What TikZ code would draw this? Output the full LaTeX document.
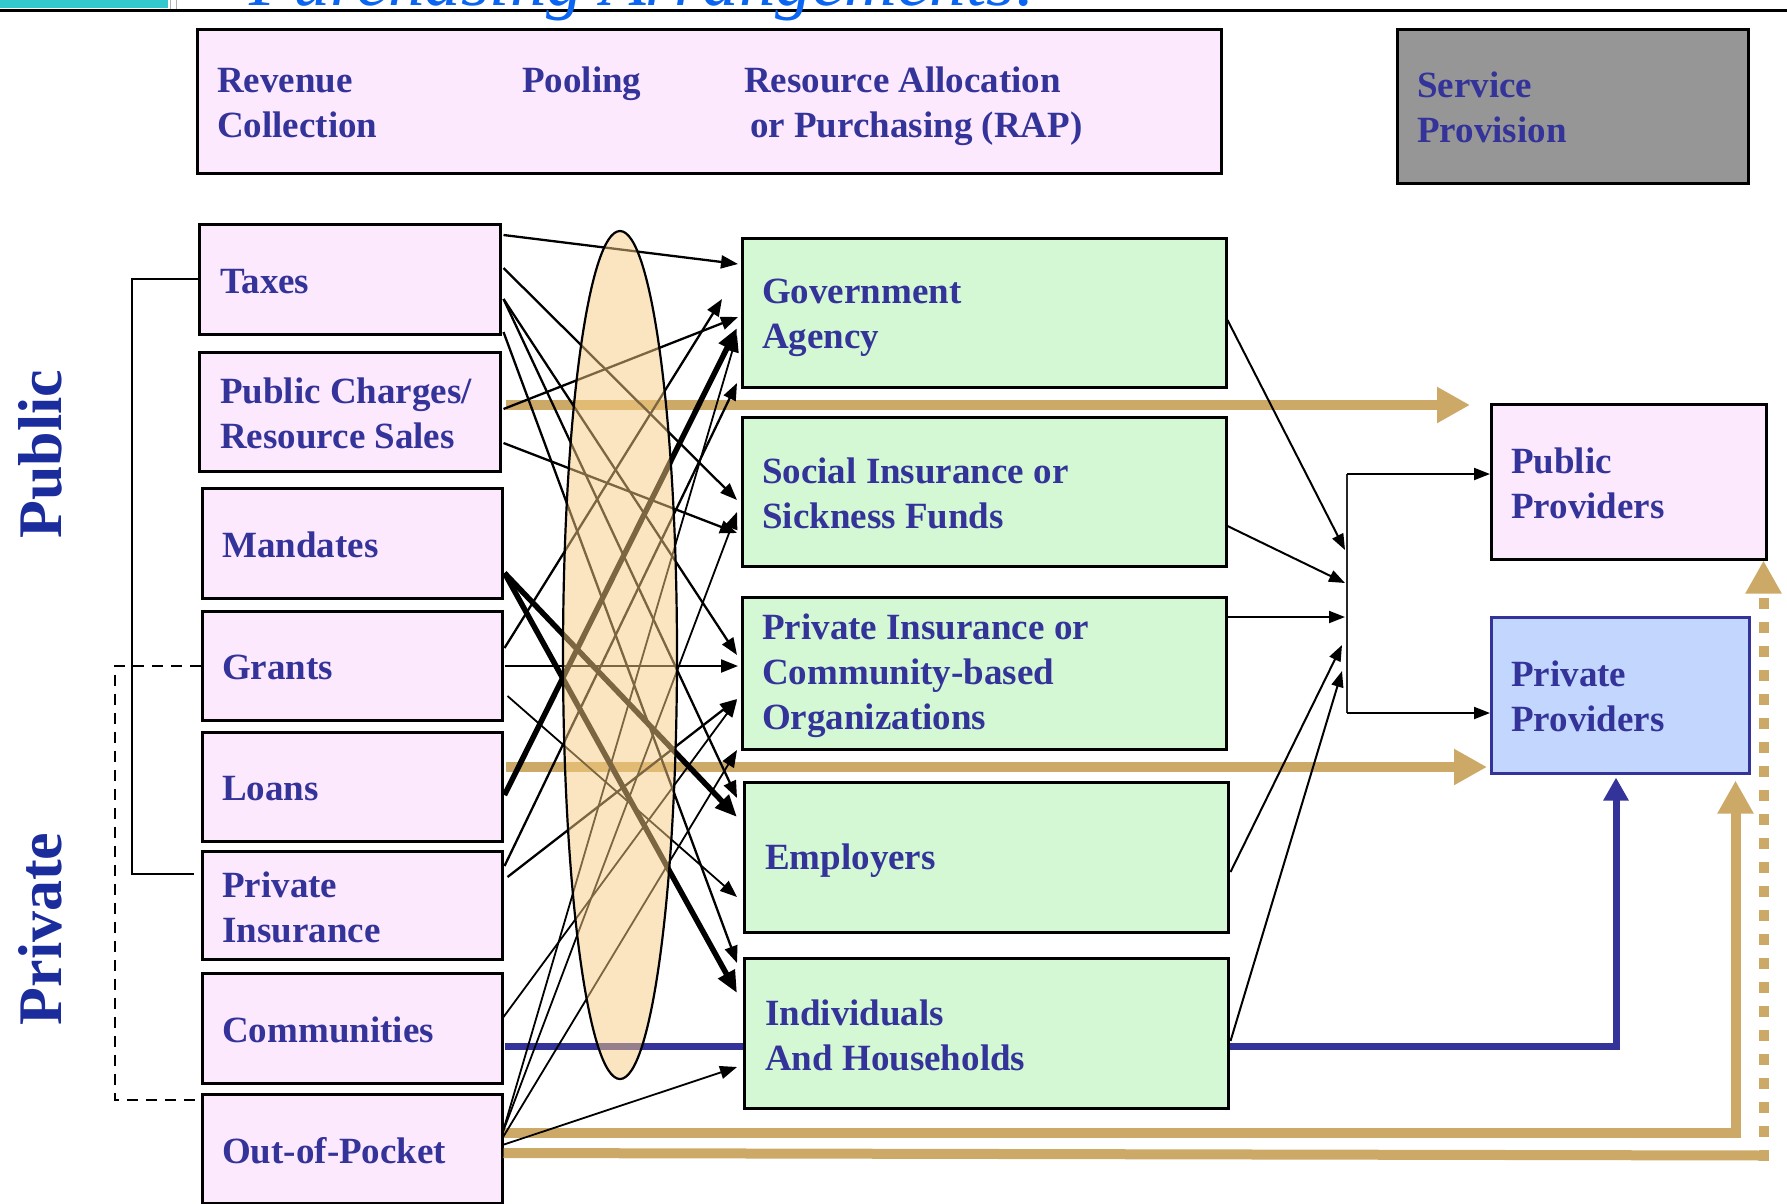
\documentclass[tikz,border=0pt]{standalone}
\usepackage{fontspec}
\setmainfont{Liberation Serif}
\usetikzlibrary{arrows.meta,calc}
\definecolor{pinkc}{HTML}{FDE9FD}
\definecolor{greenc}{HTML}{D4F8D4}
\definecolor{grayc}{HTML}{969696}
\definecolor{bluec}{HTML}{C3D6FD}
\definecolor{tanc}{HTML}{CCA966}
\definecolor{txtc}{HTML}{333399}
\definecolor{sidec}{HTML}{1B2C9C}
\definecolor{ellc}{HTML}{F7CC82}
\definecolor{titlec}{HTML}{0A66F2}
\definecolor{tealc}{HTML}{33C8CE}
\begin{document}
\begin{tikzpicture}[x=1pt,y=-1pt,
  box/.style={draw=black, line width=2.5pt, inner sep=0pt, anchor=north west},
  lbox/.style={box, fill=pinkc},
  gbox/.style={box, fill=greenc},
  txt/.style={anchor=west, align=left, text=txtc, inner sep=0pt, font=\bfseries\fontsize{37}{45}\selectfont},
  side/.style={text=sidec, inner sep=0pt, rotate=90, font=\bfseries\fontsize{62}{62}\selectfont},
  arr/.style={draw=black, line width=2.3pt, -{Triangle[length=17pt,width=13pt]}},
  tarr/.style={arr, line width=1.8pt},
  karr/.style={draw=black, line width=5.5pt, -{Triangle[length=22pt,width=18pt]}},
  carr/.style={draw=black, line width=2pt, -{Triangle[length=16pt,width=12pt]}},
  tanline/.style={draw=tanc, line width=10pt},
  tanarr/.style={tanline, -{Triangle[length=33pt,width=34pt]}},
  bluearr/.style={draw=txtc, line width=7pt, -{Triangle[length=23pt,width=24pt]}}
]
\useasboundingbox (0,0) rectangle (1787,1203);

% top strip
\fill[tealc] (0,0) rectangle (168,8);
\draw[gray!60, line width=0.8pt] (170,0) -- (170,9) (176,0) -- (176,9);
\draw[black, line width=3pt] (0,10) -- (1787,10);
\node[anchor=base west, inner sep=0pt, text=titlec, font=\itshape\fontsize{73}{73}\selectfont] (title) at (249,5) {Purchasing Arrangements:};

% header
\node[lbox, minimum width=1024pt, minimum height=144pt] (hdr) at (196,28) {};
\node[txt] (rc) at (217,103) {Revenue\\Collection};
\node[txt] (pool) at (522,84) {Pooling};
\node[txt] (rap) at (744,106) {Resource Allocation\\\hspace*{6pt}or Purchasing (RAP)};
\node[box, fill=grayc, minimum width=351pt, minimum height=154pt] (svc) at (1396,28) {};
\node[txt] (svct) at (1417,107) {Service\\Provision};

% side labels
\node[side] (pub) at (40,454) {Public};
\node[side] (priv) at (40,929) {Private};

% left boxes
\node[lbox, minimum width=301pt, minimum height=110pt] (taxes) at (198,223) {};
\node[lbox, minimum width=301pt, minimum height=119pt] (pubch) at (198,351) {};
\node[lbox, minimum width=300pt, minimum height=110pt] (mand) at (201,487) {};
\node[lbox, minimum width=300pt, minimum height=109pt] (grants) at (201,610) {};
\node[lbox, minimum width=300pt, minimum height=109pt] (loans) at (201,731) {};
\node[lbox, minimum width=300pt, minimum height=108pt] (privins) at (201,850) {};
\node[lbox, minimum width=300pt, minimum height=110pt] (comm) at (201,972) {};
\node[lbox, minimum width=300pt, minimum height=109pt] (oop) at (201,1093) {};
\node[txt] (taxes-t) at ($(taxes.west)+(22,2)$) {Taxes};
\node[txt] (pubch-t) at ($(pubch.west)+(22,2)$) {Public Charges/\\Resource Sales};
\node[txt] (mand-t) at ($(mand.west)+(21,2)$) {Mandates};
\node[txt] (grants-t) at ($(grants.west)+(21,2)$) {Grants};
\node[txt] (loans-t) at ($(loans.west)+(21,2)$) {Loans};
\node[txt] (privins-t) at ($(privins.west)+(21,2)$) {Private\\Insurance};
\node[txt] (comm-t) at ($(comm.west)+(21,2)$) {Communities};
\node[txt] (oop-t) at ($(oop.west)+(21,2)$) {Out-of-Pocket};

% middle boxes
\node[gbox, minimum width=484pt, minimum height=149pt] (gov) at (741,237) {};
\node[gbox, minimum width=484pt, minimum height=149pt] (social) at (741,416) {};
\node[gbox, minimum width=484pt, minimum height=152pt] (cbo) at (741,596) {};
\node[gbox, minimum width=484pt, minimum height=150pt] (emp) at (743,781) {};
\node[gbox, minimum width=484pt, minimum height=150pt] (indiv) at (743,957) {};
\node[txt] (gov-t) at ($(gov.west)+(21,5)$) {Government\\Agency};
\node[txt] (social-t) at ($(social.west)+(21,2)$) {Social Insurance or\\Sickness Funds};
\node[txt] (cbo-t) at ($(cbo.west)+(21,2)$) {Private Insurance or\\Community-based\\Organizations};
\node[txt] (emp-t) at ($(emp.west)+(22,3)$) {Employers};
\node[txt] (indiv-t) at ($(indiv.west)+(22,2)$) {Individuals\\And Households};

% right boxes
\node[lbox, minimum width=275pt, minimum height=155pt] (pubprov) at (1490,403) {};
\node[box, draw=txtc, fill=bluec, minimum width=258pt, minimum height=156pt] (privprov) at (1490,616) {};
\node[txt] (pubprov-t) at ($(pubprov.west)+(21,2)$) {Public\\Providers};
\node[txt] (privprov-t) at ($(privprov.west)+(21,1)$) {Private\\Providers};

% left brackets
\draw[line width=1.8pt] (taxes.west) -| ($(privins.north west)+(-69,24)$) -- ($(privins.north west)+(-7,24)$);
\draw[line width=1.8pt, dash pattern=on 11pt off 8pt] (grants.west) -| ($(oop.north west)+(-86,7)$) -- ($(oop.north west)+(-3,7)$);

% tan flows
\draw[tanarr] ($(pubch.north east)+(4,54)$) -- ($(pubprov.north west)+(-20,2)$);
\draw[tanarr] ($(loans.north east)+(2,36)$) -- ($(privprov.north west)+(-3,151)$);
\coordinate (tanup) at ($(privprov.south east)+(-15,6)$);
\draw[tanarr, line join=miter] ($(oop.north east)+(0,40)$) -| (tanup);
\coordinate (tancorner) at ($(pubprov.south east)+(-4,595)$);
\draw[tanline] ($(oop.north east)+(0,60)$) -- ($(tancorner)+(5,0)$);
\draw[tanarr, dash pattern=on 11pt off 13pt] ($(tancorner)+(0,5)$) -- ($(pubprov.south east)+(-4,0)$);

% blue flow
\draw[draw=txtc, line width=7pt] ($(comm.north east)+(1,74)$) -- ($(indiv.north west)+(0,89)$);
\draw[bluearr, line join=miter] ($(indiv.north east)+(0,89)$) -| ($(privprov.south west)+(126,3)$);

% revenue -> pooling connectors
\draw[arr] ($(taxes.north east)+(2,12)$) -- ($(gov.north west)+(-3,27)$);
\draw[arr] ($(taxes.north east)+(2,45)$) -- ($(social.north west)+(-4,84)$);
\draw[arr] ($(taxes.north east)+(2,76)$) -- ($(cbo.north west)+(-4,59)$);
\draw[arr] ($(taxes.north east)+(2,76)$) -- ($(emp.north west)+(-6,17)$);
\draw[arr] ($(taxes.north east)+(2,109)$) -- ($(indiv.north west)+(-6,6)$);
\draw[arr] ($(pubch.north east)+(2,58)$) -- ($(gov.north west)+(-3,80)$);
\draw[arr] ($(pubch.north east)+(2,92)$) -- ($(social.north west)+(-4,117)$);
\draw[karr] ($(mand.north east)+(1,86)$) -- ($(emp.north west)+(-6,36)$);
\draw[karr] ($(mand.north east)+(1,86)$) -- ($(indiv.north west)+(-6,36)$);
\draw[arr] ($(grants.north east)+(1,38)$) -- ($(gov.north west)+(-19,62)$);
\draw[arr] ($(grants.north east)+(1,56)$) -- ($(cbo.north west)+(-3,70)$);
\draw[tarr] ($(grants.north east)+(4,86)$) -- ($(emp.north west)+(-6,116)$);
\draw[karr] ($(loans.north east)+(1,64)$) -- ($(gov.north west)+(-4,91)$);
\draw[arr] ($(privins.north east)+(1,16)$) -- ($(gov.north west)+(-4,146)$);
\draw[arr] ($(privins.north east)+(4,27)$) -- ($(cbo.north west)+(-4,103)$);
\draw[tarr] ($(comm.north east)+(0,45)$) -- ($(cbo.north west)+(-4,104)$);
\draw[tarr] ($(oop.north east)+(-1,52)$) -- ($(indiv.north west)+(-6,110)$);
\draw[tarr] ($(oop.north east)+(-1,40)$) -- ($(gov.north west)+(-4,98)$);
\draw[tarr] ($(oop.north east)+(-1,40)$) -- ($(social.north west)+(-4,96)$);
\draw[tarr] ($(oop.north east)+(-1,45)$) -- ($(cbo.north west)+(-4,154)$);

% pooling ellipse
\fill[ellc, fill opacity=0.5] (620,655) ellipse [x radius=57, y radius=424];
\draw[line width=2.2pt] (620,655) ellipse [x radius=57, y radius=424];

% collector to providers
\coordinate (ctop) at (1347,474);
\coordinate (cbot) at (1347,713);
\draw[line width=1.6pt, black!85] (ctop) -- (cbot);
\draw[carr] (ctop) -- (pubprov.west |- ctop);
\draw[carr] (cbot) -- (privprov.west |- cbot);
\draw[carr] ($(gov.north east)+(0,83)$) -- ($(ctop)+(-2,76)$);
\draw[carr] ($(social.north east)+(0,110)$) -- ($(ctop)+(-2,109)$);
\draw[carr] ($(cbo.north east)+(0,21)$) -- ($(ctop)+(-2,143)$);
\draw[carr] ($(emp.north east)+(1,91)$) -- ($(ctop)+(-5,171)$);
\draw[carr] ($(indiv.north east)+(1,84)$) -- ($(ctop)+(-5,197)$);
\end{tikzpicture}
\end{document}
